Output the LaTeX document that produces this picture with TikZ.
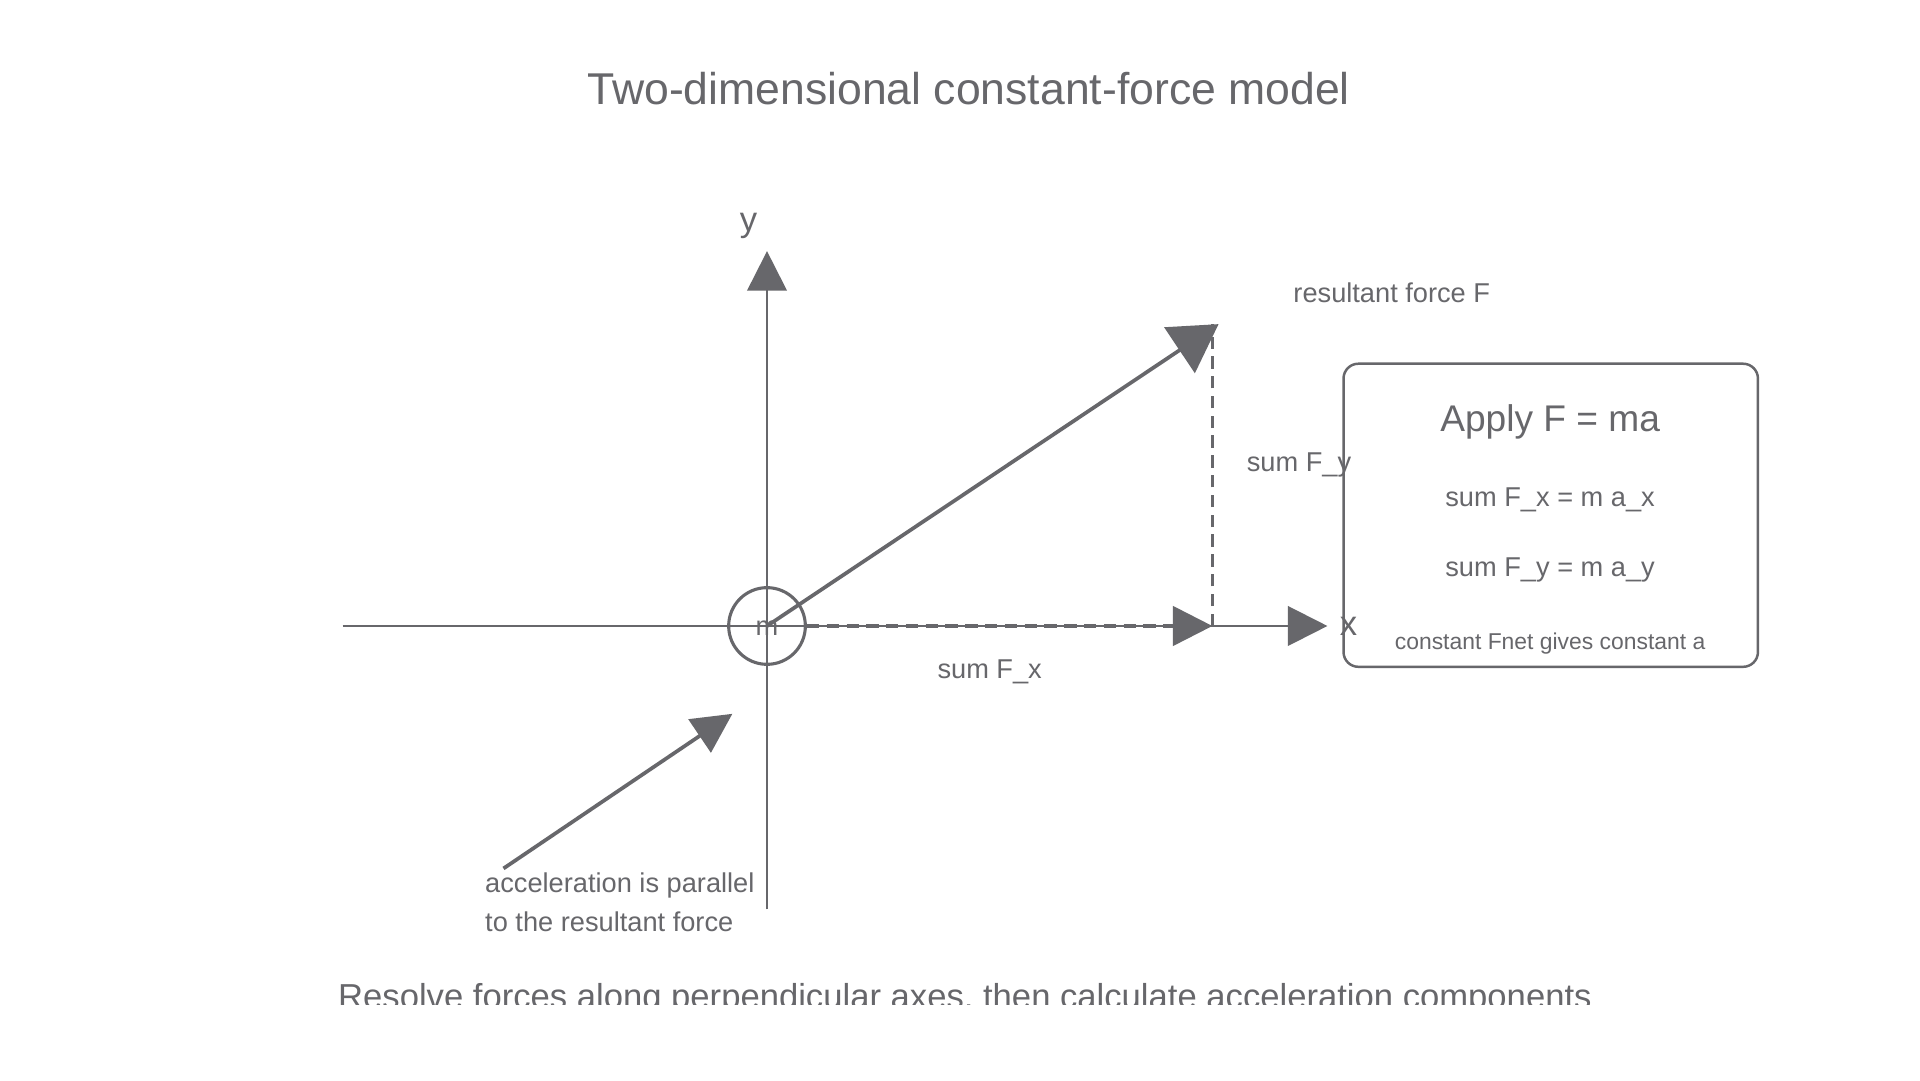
\documentclass[tikz,border=0pt]{standalone}
\usepackage{fontspec}
\setmainfont{Liberation Sans}
\usetikzlibrary{arrows.meta}
\definecolor{ink}{HTML}{67676B}
\begin{document}
\begin{tikzpicture}[x=1pt,y=-1pt,color=ink,
  lbl/.style={font=\fontsize{22}{26}\selectfont,text=ink,inner sep=0},
  head/.style={-{Triangle[length=32pt,width=32pt]}},
  bighead/.style={-{Triangle[length=38pt,width=44pt]}}]
\useasboundingbox[fill=white] (0,0) rectangle (1552,873);
\node[font=\fontsize{36}{40}\selectfont,text=ink] (title) at (783,72) {Two-dimensional constant-force model};
\coordinate (O) at (620,506);
\coordinate (xl) at (277,506);
\coordinate (xr) at (1073,506);
\coordinate (yb) at (620,735);
\coordinate (yt) at (620,203);
\draw[line width=1.8pt] (xl) -- (O);
\draw[line width=1.8pt,head] (O) -- (xr);
\draw[line width=1.8pt] (yb) -- (O);
\draw[line width=1.8pt,head] (O) -- (yt);
\node[lbl,font=\fontsize{28}{30}\selectfont] (ylab) at (605,183) {y};
\node[lbl,font=\fontsize{28}{30}\selectfont] (xlab) at (1090,506) {x};
\node[draw,circle,minimum size=62pt,line width=2.5pt,inner sep=0] (m) at (O) {};
\node[lbl] (mlab) at (620,508) {m};
\coordinate (R) at (985,262);
\coordinate (Fx) at (980,506);
\coordinate (Fy) at (980,262);
\draw[line width=2.5pt,dashed,dash pattern=on 10pt off 6pt,head] (m.east) -- (Fx);
\draw[line width=2.5pt,dashed,dash pattern=on 10pt off 6pt] (Fx) -- (Fy);
\draw[line width=3pt,bighead] (O) -- (R);
\node[lbl] (sfx) at (800,543) {sum F\_x};
\node[lbl] (sfy) at (1050,376) {sum F\_y};
\node[lbl] (rf) at (1125,237) {resultant force F};
\node[draw,rounded corners=12pt,line width=2pt,minimum width=335pt,minimum height=245pt] (box) at (1253.5,416.5) {};
\node[lbl,font=\fontsize{30}{34}\selectfont] (apply) at (1253,341) {Apply F = ma};
\node[lbl] (e1) at (1253,404) {sum F\_x = m a\_x};
\node[lbl] (e2) at (1253,461) {sum F\_y = m a\_y};
\node[lbl,font=\fontsize{18.5}{22}\selectfont] (e3) at (1253,520) {constant Fnet gives constant a};
\coordinate (a0) at (407,702);
\coordinate (a1) at (592,577);
\draw[line width=3pt,head] (a0) -- (a1);
\node[lbl,anchor=north west,align=left,font=\fontsize{22}{32}\selectfont] (acc) at (392,705) {acceleration is parallel\\to the resultant force};
\begin{scope}
\clip (0,0) rectangle (1552,812);
\node[lbl,font=\fontsize{28}{32}\selectfont] (bottom) at (780,808) {Resolve forces along perpendicular axes, then calculate acceleration components};
\end{scope}
\end{tikzpicture}
\end{document}
